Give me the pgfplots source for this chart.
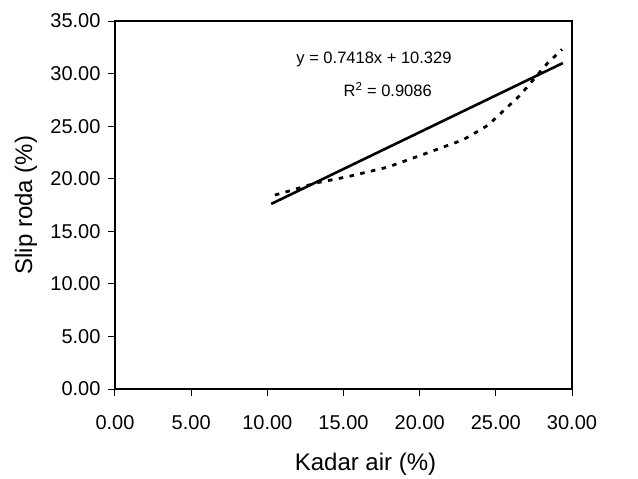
\documentclass[border=0pt]{standalone}
\usepackage{fontspec}
\setmainfont{Liberation Sans}
\usepackage{pgfplots}
\pgfplotsset{compat=1.18}

% data
\pgfplotstableread{
x y
10.50 18.45
11.60 18.90
13.20 19.60
15.30 20.20
17.90 21.10
20.40 22.40
22.85 23.70
23.45 24.20
24.50 25.10
26.60 27.95
28.40 31.00
29.35 32.30
}\slipdata

\pgfplotstableread{
x y
10.25 17.60
29.40 31.00
}\trend

\begin{document}
\begin{tikzpicture}
\useasboundingbox (-115bp,-90bp) rectangle (523bp,389bp);
\begin{axis}[
    at={(0,0)}, anchor=south west,
    scale only axis,
    width=457bp, height=368bp,
    xmin=0, xmax=30, ymin=0, ymax=35,
    xtick={0,5,...,30}, ytick={0,5,...,35},
    xtick pos=bottom, ytick pos=left,
    tick align=outside,
    major tick length=7bp,
    tick style={black, line width=1bp},
    axis line style={black, line width=1.3bp},
    /pgf/number format/.cd, fixed, fixed zerofill, precision=2, assume math mode=true,
    /pgfplots/.cd,
    tick label style={font=\fontsize{20bp}{24bp}\selectfont},
    xticklabel style={yshift=-16bp},
    yticklabel style={xshift=-4bp},
    xlabel={Kadar air (\%)},
    ylabel={Slip roda (\%)},
    xlabel style={font=\fontsize{24bp}{28bp}\selectfont, at={(axis description cs:0.5,0)}, anchor=base, yshift=-81bp, xshift=22bp},
    ylabel style={font=\fontsize{24bp}{28bp}\selectfont, at={(axis description cs:0,0.5)}, anchor=center, yshift=89bp},
]
\addplot[black, line width=2.8bp, dash pattern=on 4.5bp off 6.5bp] table[x=x, y=y] {\slipdata};
\addplot[black, line width=2.6bp] table[x=x, y=y] {\trend};
\node[font=\fontsize{16.5bp}{20bp}\selectfont] at (axis cs:17.0,31.3) {y = 0.7418x + 10.329};
\node[font=\fontsize{16.5bp}{20bp}\selectfont] at (axis cs:17.9,28.45) {R\textsuperscript{2} = 0.9086};
\end{axis}
\end{tikzpicture}
\end{document}
